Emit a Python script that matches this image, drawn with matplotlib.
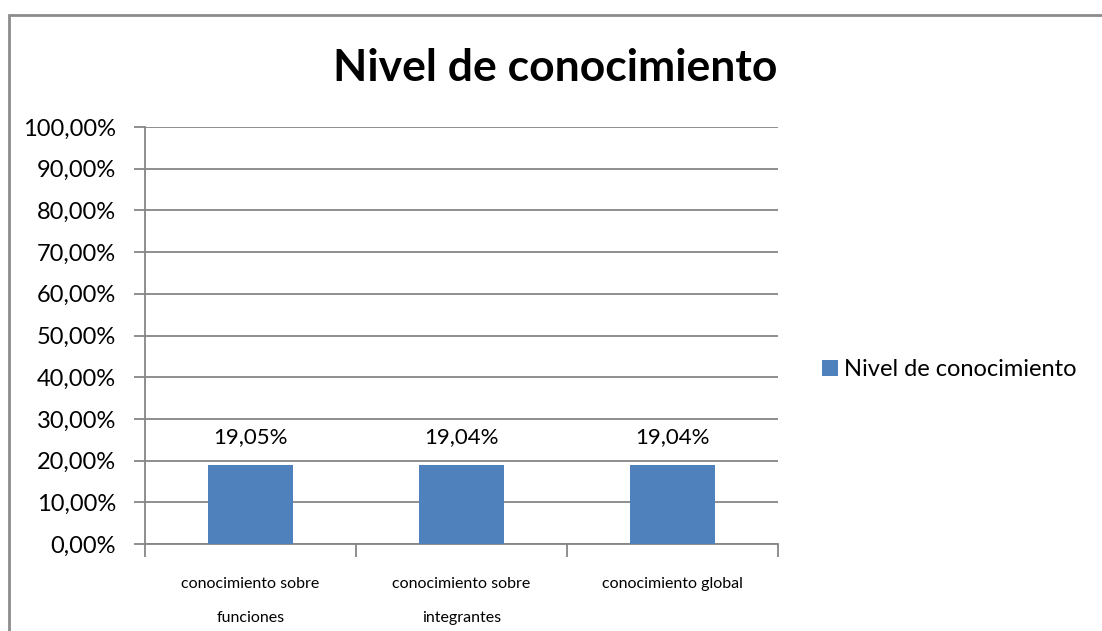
#! /usr/bin/env python3
'''
Bar chart: Nivel de conocimiento
'''

import matplotlib.pyplot as plt
from matplotlib.patches import Rectangle
import numpy as np


# data
categories = ['conocimiento sobre\nfunciones',
              'conocimiento sobre\nintegrantes',
              'conocimiento global']
values = [19.05, 19.04, 19.04]
value_labels = ['19,05%', '19,04%', '19,04%']
series_name = 'Nivel de conocimiento'
y_ticks = list(range(0, 101, 10))
y_tick_labels = ['{},00%'.format(t) for t in y_ticks]


def main():
    plt.rcParams['font.family'] = ['Lato', 'DejaVu Sans']
    W, H, dpi = 1102, 631, 100
    fig = plt.figure(figsize=(W / dpi, H / dpi), dpi=dpi, facecolor='white')

    # outer chart border (runs off the right and bottom edges)
    fig.patches.append(Rectangle((8.5 / W, -0.1), 1.2, 1 - 14.5 / H + 0.1,
                                 transform=fig.transFigure, fill=False,
                                 edgecolor='#8c8c8c', linewidth=2))

    ax = fig.add_axes([145 / W, 1 - 544 / H, 633 / W, 417 / H])
    gray = '#868686'

    x = np.arange(len(categories))
    bars = ax.bar(x, values, width=0.4, color='#4f81bd', label=series_name,
                  zorder=3)
    for b, lab in zip(bars, value_labels):
        ax.text(b.get_x() + b.get_width() / 2, b.get_height() + 4.2, lab,
                ha='center', va='bottom', fontsize=16, color='black')

    ax.set_xlim(-0.5, len(categories) - 0.5)
    ax.set_ylim(0, 100)
    ax.set_yticks(y_ticks)
    ax.set_yticklabels(y_tick_labels, fontsize=17)
    ax.yaxis.grid(True, color=gray, linewidth=1.3, zorder=0)

    # category boundaries as x ticks
    ax.set_xticks(np.arange(len(categories) + 1) - 0.5)
    ax.set_xticklabels([])
    ax.tick_params(axis='x', length=9, width=1.3, color=gray)
    ax.tick_params(axis='y', length=8, width=1.3, color=gray, pad=13)
    for i, c in enumerate(categories):
        ax.text(i, -0.079, c, transform=ax.get_xaxis_transform(),
                ha='center', va='top', fontsize=11.5, linespacing=2.85)

    for side in ['top', 'right']:
        ax.spines[side].set_visible(False)
    for side in ['left', 'bottom']:
        ax.spines[side].set_color(gray)
        ax.spines[side].set_linewidth(1.3)

    fig.text(555 / W, 1 - 68 / H, 'Nivel de conocimiento', ha='center',
             va='center', fontsize=32, fontweight='bold')

    ax.legend(loc='center left', bbox_to_anchor=(801 / W, 1 - 370 / H),
              bbox_transform=fig.transFigure, frameon=False, fontsize=17,
              handlelength=0.65, handleheight=0.65, handletextpad=0.25)

    plt.savefig('out.png', dpi=dpi)


if __name__ == '__main__':
    main()
